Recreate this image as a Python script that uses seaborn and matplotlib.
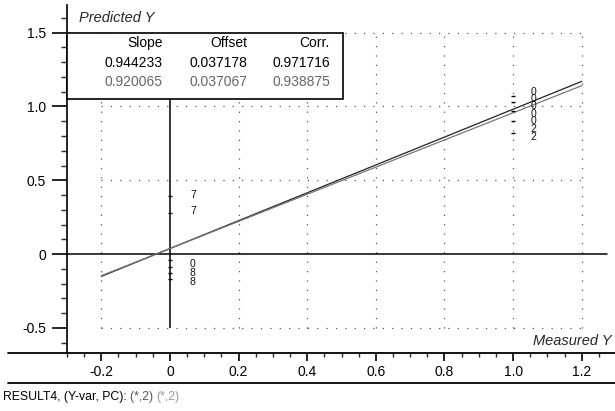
import numpy as np
import pandas as pd
import matplotlib
matplotlib.use("Agg")
import matplotlib.pyplot as plt
import seaborn as sns
from matplotlib.lines import Line2D
from matplotlib.ticker import MultipleLocator, FixedLocator

# ---------------- data ----------------
x_ticks = [-0.2, 0.0, 0.2, 0.4, 0.6, 0.8, 1.0, 1.2]
x_tick_labels = ["-0.2", "0", "0.2", "0.4", "0.6", "0.8", "1.0", "1.2"]
y_ticks = [-0.5, 0.0, 0.5, 1.0, 1.5]
y_tick_labels = ["-0.5", "0", "0.5", "1.0", "1.5"]

# regression lines (slope, offset, corr) for the two rows of the table
slopes = [0.944233, 0.920065]
offsets = [0.037178, 0.037067]
corrs = [0.971716, 0.938875]
line_x = [-0.2, 1.2]

# calibration samples (small marks at the measured value)
mark_measured = [0, 0, 0, 0, 0, 0, 1, 1, 1, 1, 1]
mark_predicted = [0.39, 0.28, -0.04, -0.09, -0.13, -0.17, 1.07, 1.03, 0.97, 0.90, 0.82]

# labelled samples (sample names)
lab_measured = [0.067, 0.067, 0.067, 0.067, 0.067,
                1.06, 1.06, 1.06, 1.06, 1.06, 1.06, 1.06]
lab_predicted = [0.40, 0.29, -0.07, -0.13, -0.19,
                 1.10, 1.05, 1.00, 0.95, 0.90, 0.85, 0.79]
lab_names = ["7", "7", "0", "8", "8",
             "0", "0", "0", "0", "0", "2", "2"]

# ---------------- style ----------------
sns.set_style("white")
plt.rcParams["font.family"] = ["Liberation Sans", "DejaVu Sans"]

W, H = 615, 411
fig = plt.figure(figsize=(W / 100, H / 100), dpi=100)

def fx(px):
    return px / W

def fy(py):
    return 1 - py / H

ax = fig.add_axes([fx(67), fy(353), fx(615) - fx(67), fy(5) - fy(353)])
ax.set_xlim(-0.3, 1.297)
ax.set_ylim(-0.671, 1.688)
ax.patch.set_alpha(0)

for s in ["top", "right", "bottom"]:
    ax.spines[s].set_visible(False)
ax.spines["left"].set_linewidth(1.2)
ax.spines["left"].set_color("black")

ax.xaxis.set_major_locator(FixedLocator(x_ticks))
ax.set_xticklabels(x_tick_labels)
ax.xaxis.set_minor_locator(MultipleLocator(0.05))
ax.yaxis.set_major_locator(FixedLocator(y_ticks))
ax.set_yticklabels(y_tick_labels)
ax.yaxis.set_minor_locator(MultipleLocator(0.1))
ax.tick_params(axis="x", which="major", direction="out", length=6, width=1.2,
               pad=3, labelsize=10, colors="black", bottom=True)
ax.tick_params(axis="x", which="minor", direction="out", length=3, width=1.0, bottom=True)
ax.tick_params(axis="y", which="major", direction="out", length=11, width=1.2,
               pad=4, labelsize=10, colors="black", left=True)
ax.tick_params(axis="y", which="minor", direction="out", length=4, width=1.0, left=True)

# dotted grid
grid_kw = dict(color="#555555", linewidth=0.9, linestyle=(0, (1, 6.5)), zorder=1)
for xv in [v for v in x_ticks if v != 0]:
    ax.vlines(xv, -0.5, 1.5, **grid_kw)
for yv in [v for v in y_ticks if v != 0]:
    ax.hlines(yv, -0.2, 1.2, **grid_kw)

# solid zero lines
ax.axhline(0, xmin=0, xmax=0.985, color="black", linewidth=1.1, zorder=2)
ax.vlines(0, -0.5, 1.05, color="black", linewidth=1.1, zorder=2)

# regression lines
reg = pd.DataFrame({
    "x": line_x * 2,
    "y": [slopes[0] * v + offsets[0] for v in line_x] + [slopes[1] * v + offsets[1] for v in line_x],
    "fit": ["cal"] * 2 + ["val"] * 2,
})
sns.lineplot(data=reg, x="x", y="y", hue="fit", palette=["#222222", "#777777"],
             linewidth=0.9, legend=False, ax=ax, zorder=3)
ax.set_xlabel("")
ax.set_ylabel("")

# small sample marks
marks = pd.DataFrame({"m": mark_measured, "p": mark_predicted})
sns.scatterplot(data=marks, x="m", y="p", marker="_", s=12, color="black",
                linewidth=1.0, ax=ax, zorder=4, legend=False)
ax.set_xlabel("")
ax.set_ylabel("")

# sample labels
for mx, py, nm in zip(lab_measured, lab_predicted, lab_names):
    ax.text(mx, py, nm, fontsize=7.5, ha="center", va="center", color="#111111", zorder=5)

# table box
ax.add_patch(plt.Rectangle((-0.3, 1.051), 0.804, 1.5 - 1.051, facecolor="white",
                           edgecolor="black", linewidth=1.2, zorder=6, clip_on=False))
hdr = ["Slope", "Offset", "Corr."]
col_r = [163, 247, 330]
row_y = [43, 63, 82]
for cx, h in zip(col_r, hdr):
    fig.text(fx(cx), fy(row_y[0]), h, ha="right", va="center", fontsize=10, color="black", zorder=7)
for cx, v in zip(col_r, [slopes[0], offsets[0], corrs[0]]):
    fig.text(fx(cx), fy(row_y[1]), f"{v:.6f}", ha="right", va="center", fontsize=10, color="black", zorder=7)
for cx, v in zip(col_r, [slopes[1], offsets[1], corrs[1]]):
    fig.text(fx(cx), fy(row_y[2]), f"{v:.6f}", ha="right", va="center", fontsize=10, color="#666666", zorder=7)

# axis titles
fig.text(fx(79), fy(18), "Predicted Y", ha="left", va="center", fontsize=10.5, style="italic")
fig.text(fx(612), fy(341), "Measured Y", ha="right", va="center", fontsize=10.5, style="italic")

# frame lines at bottom
fig.add_artist(Line2D([fx(8), fx(615)], [fy(353), fy(353)], color="black", linewidth=1.3))
fig.add_artist(Line2D([fx(8), fx(615)], [fy(383), fy(383)], color="black", linewidth=1.3))

# footer text
t1 = fig.text(fx(3), fy(397), "RESULT4, (Y-var, PC): ", ha="left", va="center", fontsize=8.8, color="black")
fig.canvas.draw()
r = fig.canvas.get_renderer()
bb = t1.get_window_extent(r)
t2 = fig.text(bb.x1 / fig.bbox.width, fy(397), "(*,2) ", ha="left", va="center", fontsize=8.8, color="#555555")
bb2 = t2.get_window_extent(r)
fig.text(bb2.x1 / fig.bbox.width, fy(397), "(*,2)", ha="left", va="center", fontsize=8.8, color="#999999")

fig.savefig("out.png", dpi=100, facecolor="white")
